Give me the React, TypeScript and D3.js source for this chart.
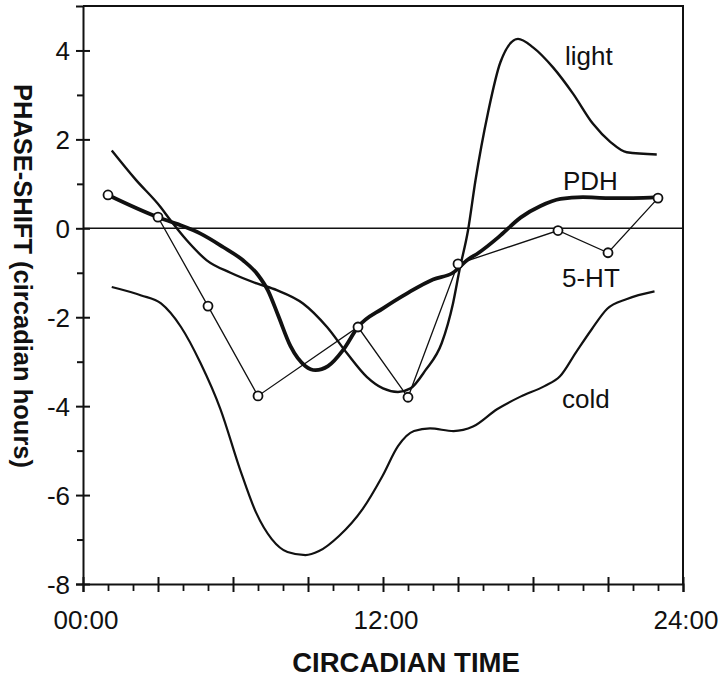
import { useEffect, useRef } from 'react';
import * as d3 from 'd3';

// circadian phase-shift curves
const lightHours = [1.15, 2.1, 3.1, 3.5, 4.15, 4.95, 5.9, 6.95, 7.75, 8.8, 9.76, 10.56, 11.35, 12, 12.6, 13.1, 13.7, 14.35, 14.8, 15.06, 15.4, 15.7, 16.2, 16.7, 17.4, 18, 18.8, 19.6, 20.4, 21.1, 21.75, 22.95];
const lightValues = [1.75, 1.1, 0.48, 0.18, -0.27, -0.72, -1.0, -1.24, -1.39, -1.69, -2.22, -2.81, -3.34, -3.6, -3.68, -3.6, -3.19, -2.58, -1.69, -0.94, -0.05, 1.08, 2.6, 3.74, 4.26, 4.07, 3.62, 3.03, 2.35, 1.94, 1.71, 1.66];

const pdhHours = [1, 3, 3.75, 4.7, 5.6, 6.4, 7, 7.4, 7.8, 8.3, 8.9, 9.3, 9.8, 10.4, 11, 12, 13, 14, 14.8, 15.4, 15.8, 16.7, 17.5, 18.3, 19.1, 20, 21, 22, 23];
const pdhValues = [0.75, 0.25, 0.1, -0.12, -0.42, -0.72, -1.05, -1.4, -1.95, -2.65, -3.1, -3.19, -3.1, -2.74, -2.22, -1.8, -1.45, -1.15, -1.0, -0.7, -0.56, -0.16, 0.24, 0.5, 0.66, 0.7, 0.68, 0.68, 0.7];

const htHours = [1, 3, 5, 7, 11, 13, 15, 19, 21, 23];
const htValues = [0.75, 0.25, -1.75, -3.77, -2.22, -3.8, -0.8, -0.05, -0.55, 0.68];

const coldHours = [1.15, 2.33, 3.12, 3.92, 4.7, 5.5, 6.28, 6.92, 7.55, 8.18, 8.9, 9.44, 10.24, 11.19, 11.98, 12.6, 13.24, 13.88, 14.82, 15.6, 16.56, 17.52, 18.46, 19.08, 19.72, 20.35, 20.97, 21.76, 22.86];
const coldValues = [-1.32, -1.51, -1.69, -2.22, -3.03, -4.07, -5.42, -6.39, -6.99, -7.28, -7.35, -7.26, -6.92, -6.31, -5.57, -4.9, -4.56, -4.5, -4.56, -4.46, -4.07, -3.78, -3.55, -3.33, -2.79, -2.27, -1.81, -1.59, -1.42];

const timeLabels: Record<number, string> = { 0: '00:00', 12: '12:00', 24: '24:00' };

const curveLabels = [
  { text: 'light', x: 565, y: 65 },
  { text: 'PDH', x: 563, y: 190 },
  { text: '5-HT', x: 562, y: 287 },
  { text: 'cold', x: 562, y: 408 },
];

const FONT = '"Liberation Sans", Arial, Helvetica, sans-serif';

const App = () => {
  const svgRef = useRef<SVGSVGElement | null>(null);

  useEffect(() => {
    if (!svgRef.current) return;
    const svg = d3.select(svgRef.current);
    svg.selectAll('*').remove();

    const width = 720;
    const height = 677;

    const x = d3.scaleLinear().domain([0, 24]).range([83, 683]);
    const y = d3.scaleLinear().domain([-8, 5]).range([584, 6]);

    const line = d3.line<[number, number]>()
      .x(d => x(d[0]))
      .y(d => y(d[1]));

    svg.append('rect').attr('width', width).attr('height', height).attr('fill', '#fff');

    // frame: top + right sides
    svg.append('path')
      .attr('d', `M${x(0)},${y(5)}H${x(24)}V${y(-8)}`)
      .attr('fill', 'none')
      .attr('stroke', '#111')
      .attr('stroke-width', 2);

    // zero line
    svg.append('line')
      .attr('x1', x(0)).attr('x2', x(24))
      .attr('y1', y(0)).attr('y2', y(0))
      .attr('stroke', '#111')
      .attr('stroke-width', 1.5);

    // y axis
    const yAxis = svg.append('g')
      .attr('transform', `translate(${x(0)},0)`)
      .call(d3.axisLeft(y).tickValues([-8, -6, -4, -2, 0, 2, 4]).tickSize(7).tickPadding(6).tickFormat(d => String(d)));
    yAxis.select('.domain').attr('stroke-width', 2).attr('stroke', '#111');
    yAxis.selectAll('.tick line').attr('x1', 7).attr('stroke-width', 2).attr('stroke', '#111');
    yAxis.selectAll('.tick text')
      .attr('font-family', FONT).attr('font-size', 26).attr('fill', '#111').attr('dy', '0.36em');

    const yMinor = svg.append('g')
      .attr('transform', `translate(${x(0)},0)`)
      .call(d3.axisLeft(y).tickValues([-7, -5, -3, -1, 1, 3]).tickSize(6).tickFormat(() => ''));
    yMinor.select('.domain').remove();
    yMinor.selectAll('.tick line').attr('stroke-width', 2).attr('stroke', '#111');

    // x axis
    const xAxis = svg.append('g')
      .attr('transform', `translate(0,${y(-8)})`)
      .call(d3.axisBottom(x).tickValues(d3.range(0, 25, 3)).tickSize(8).tickFormat(() => ''));
    xAxis.select('.domain').attr('stroke-width', 2).attr('stroke', '#111');
    xAxis.selectAll('.tick line').attr('y1', -7).attr('stroke-width', 2).attr('stroke', '#111');

    const xMinor = svg.append('g')
      .attr('transform', `translate(0,${y(-8)})`)
      .call(d3.axisBottom(x).tickValues(d3.range(1, 24).filter(h => h % 3 !== 0)).tickSize(7).tickFormat(() => ''));
    xMinor.select('.domain').remove();
    xMinor.selectAll('.tick line').attr('stroke-width', 1.8).attr('stroke', '#111');

    svg.append('g')
      .selectAll('text')
      .data(Object.keys(timeLabels).map(Number))
      .join('text')
      .attr('x', d => x(d) + 3)
      .attr('y', 629)
      .attr('text-anchor', 'middle')
      .attr('font-family', FONT)
      .attr('font-size', 26)
      .attr('fill', '#111')
      .text(d => timeLabels[d]);

    // axis titles
    svg.append('text')
      .attr('x', 406).attr('y', 672)
      .attr('text-anchor', 'middle')
      .attr('font-family', FONT).attr('font-weight', 'bold').attr('font-size', 27.5)
      .attr('fill', '#111')
      .text('CIRCADIAN TIME');

    svg.append('text')
      .attr('transform', 'translate(14,276) rotate(90)')
      .attr('text-anchor', 'middle')
      .attr('font-family', FONT).attr('font-weight', 'bold').attr('font-size', 25.5)
      .attr('fill', '#111')
      .text('PHASE-SHIFT (circadian hours)');

    // curves
    const smooth = line.curve(d3.curveMonotoneX);
    const zip = (h: number[], v: number[]) => h.map((d, i) => [d, v[i]] as [number, number]);

    svg.append('path')
      .attr('d', smooth(zip(coldHours, coldValues)))
      .attr('fill', 'none').attr('stroke', '#111').attr('stroke-width', 2.2);

    svg.append('path')
      .attr('d', smooth(zip(lightHours, lightValues)))
      .attr('fill', 'none').attr('stroke', '#111').attr('stroke-width', 2.4);

    svg.append('path')
      .attr('d', smooth(zip(pdhHours, pdhValues)))
      .attr('fill', 'none').attr('stroke', '#111').attr('stroke-width', 3.8);

    const straight = d3.line<[number, number]>().x(d => x(d[0])).y(d => y(d[1]));
    const htPts = zip(htHours, htValues);
    svg.append('path')
      .attr('d', straight(htPts))
      .attr('fill', 'none').attr('stroke', '#111').attr('stroke-width', 1.3);

    svg.append('g')
      .selectAll('circle')
      .data(htPts)
      .join('circle')
      .attr('cx', d => x(d[0]))
      .attr('cy', d => y(d[1]))
      .attr('r', 4.5)
      .attr('fill', '#fff')
      .attr('stroke', '#111')
      .attr('stroke-width', 1.8);

    // curve names
    svg.append('g')
      .selectAll('text')
      .data(curveLabels)
      .join('text')
      .attr('x', d => d.x)
      .attr('y', d => d.y)
      .attr('font-family', FONT)
      .attr('font-size', 26)
      .attr('fill', '#111')
      .text(d => d.text);
  }, []);

  return (
    <svg ref={svgRef} width="720" height="677" style={{ position: 'absolute', left: 0, top: 0 }}></svg>
  );
};

export default App;
